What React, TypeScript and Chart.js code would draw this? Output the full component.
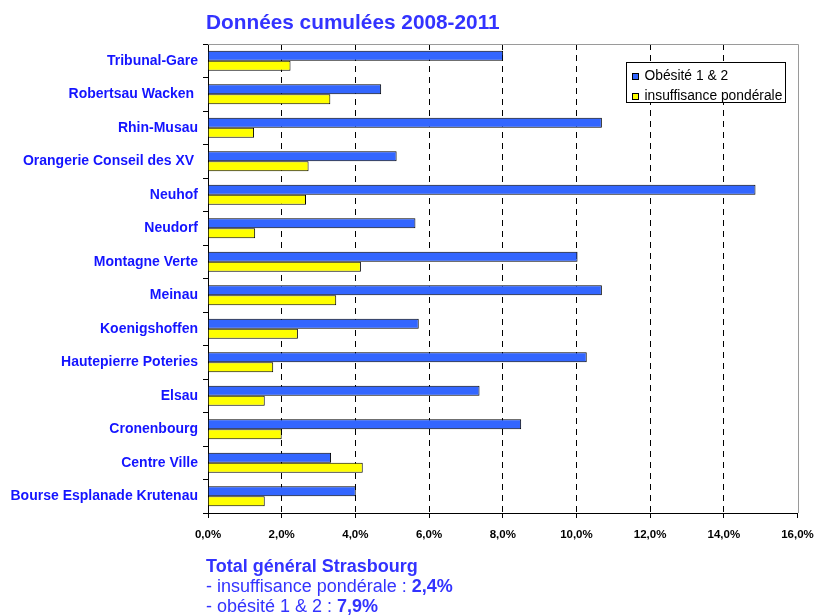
import React, { useEffect, useRef } from 'react';
import { Chart, registerables } from 'chart.js';

Chart.register(...registerables);

const categories = [
  'Tribunal-Gare',
  'Robertsau Wacken ',
  'Rhin-Musau',
  'Orangerie Conseil des XV ',
  'Neuhof',
  'Neudorf',
  'Montagne Verte',
  'Meinau',
  'Koenigshoffen',
  'Hautepierre Poteries',
  'Elsau',
  'Cronenbourg',
  'Centre Ville',
  'Bourse Esplanade Krutenau',
];
const obesite = [8.01, 4.7, 10.69, 5.12, 14.86, 5.63, 10.03, 10.69, 5.72, 10.28, 7.37, 8.5, 3.34, 4.01];
const insuffisance = [2.24, 3.32, 1.25, 2.73, 2.66, 1.28, 4.15, 3.48, 2.44, 1.77, 1.54, 2.0, 4.2, 1.54];
const seriesNames = ['Obésité 1 & 2', 'insuffisance pondérale'];
const seriesColors = ['#3366FF', '#FFFF00'];
const xMin = 0;
const xMax = 16;
const xStep = 2;
const titleText = 'Données cumulées 2008-2011';
const footerTitle = 'Total général Strasbourg';
const footerLines = [
  { label: '- insuffisance pondérale : ', value: '2,4%' },
  { label: '- obésité 1 & 2 : ', value: '7,9%' },
];

const FONT = 'Arial, "Liberation Sans", Helvetica, sans-serif';

const plotFramePlugin = {
  id: 'plotFrame',
  beforeDatasetsDraw(chart: any) {
    const { ctx, chartArea } = chart;
    ctx.save();
    ctx.strokeStyle = '#9a9a9a';
    ctx.lineWidth = 1;
    ctx.beginPath();
    ctx.moveTo(chartArea.left, Math.round(chartArea.top) + 0.5);
    ctx.lineTo(Math.round(chartArea.right) + 0.5, Math.round(chartArea.top) + 0.5);
    ctx.lineTo(Math.round(chartArea.right) + 0.5, chartArea.bottom);
    ctx.stroke();
    ctx.restore();
  },
};

const legendPlugin = {
  id: 'boxLegend',
  afterDraw(chart: any) {
    const { ctx, chartArea } = chart;
    ctx.save();
    ctx.font = `13.8px ${FONT}`;
    const names = chart.data.datasets.map((d: any) => d.label);
    const maxW = Math.max(...names.map((n: string) => ctx.measureText(n).width));
    const sq = 6;
    const padL = 6;
    const gap = 6;
    const padR = 3;
    const rowH = 20.5;
    const w = Math.round(padL + sq + gap + maxW + padR);
    const h = 40;
    const x = Math.round(chartArea.right - 12.5 - w) + 0.5;
    const y = Math.round(chartArea.top + 18) + 0.5;
    ctx.fillStyle = '#ffffff';
    ctx.fillRect(x, y, w, h);
    ctx.strokeStyle = '#000000';
    ctx.lineWidth = 1;
    ctx.strokeRect(x, y, w, h);
    names.forEach((n: string, i: number) => {
      const cy = y + 13 + rowH * i;
      const ds = chart.data.datasets[i];
      const sy = Math.round(cy - sq / 2) + 0.5;
      ctx.fillStyle = ds.backgroundColor;
      ctx.fillRect(x + padL, sy, sq, sq);
      ctx.strokeStyle = '#000';
      ctx.strokeRect(x + padL, sy, sq, sq);
      ctx.fillStyle = '#000';
      ctx.textBaseline = 'middle';
      ctx.textAlign = 'left';
      ctx.fillText(n, x + padL + sq + gap, cy + 0.5);
    });
    ctx.restore();
  },
};

export default function App() {
  const canvasRef = useRef<HTMLCanvasElement | null>(null);

  useEffect(() => {
    if (!canvasRef.current) return;
    const chart = new Chart(canvasRef.current, {
      type: 'bar',
      data: {
        labels: categories,
        datasets: [
          {
            label: seriesNames[0],
            data: obesite,
            backgroundColor: seriesColors[0],
            borderColor: '#000000',
            borderWidth: 1,
            categoryPercentage: 0.6,
            barPercentage: 1,
          },
          {
            label: seriesNames[1],
            data: insuffisance,
            backgroundColor: seriesColors[1],
            borderColor: '#000000',
            borderWidth: 1,
            categoryPercentage: 0.6,
            barPercentage: 1,
          },
        ],
      },
      options: {
        indexAxis: 'y',
        animation: false,
        responsive: false,
        maintainAspectRatio: false,
        devicePixelRatio: 1,
        layout: { padding: { top: 44, right: 20.5, bottom: 73, left: 0 } },
        plugins: {
          legend: { display: false },
          title: { display: false },
          tooltip: { enabled: false },
        },
        scales: {
          x: {
            type: 'linear',
            min: xMin,
            max: xMax,
            ticks: {
              stepSize: xStep,
              color: '#000000',
              padding: 10,
              font: { family: FONT, size: 11.5, weight: 'bold' },
              callback: (v: any) => Number(v).toFixed(1).replace('.', ',') + '%',
              maxRotation: 0,
            },
            grid: {
              color: (c: any) =>
                c.tick && (c.tick.value === xMin || c.tick.value === xMax) ? 'rgba(0,0,0,0)' : '#000000',
              tickColor: '#000000',
              tickLength: 5,
              lineWidth: 1,
            },
            border: { display: true, color: '#000000', width: 1, dash: [6, 5] },
            afterFit: (s: any) => {
              s.height = 30;
              s.paddingLeft = 0;
              s.paddingRight = 0;
            },
          },
          y: {
            type: 'category',
            offset: true,
            ticks: {
              color: '#1414ff',
              padding: 5,
              font: { family: FONT, size: 14, weight: 'bold' },
              autoSkip: false,
            },
            grid: {
              display: true,
              drawOnChartArea: false,
              drawTicks: true,
              offset: true,
              tickLength: 5,
              tickColor: '#000000',
              color: '#000000',
            },
            border: { display: true, color: '#000000', width: 1 },
            afterFit: (s: any) => {
              s.width = 208;
              s.paddingTop = 0;
              s.paddingBottom = 0;
            },
          },
        },
      } as any,
      plugins: [plotFramePlugin, legendPlugin],
    });
    return () => chart.destroy();
  }, []);

  return (
    <div style={{ position: 'absolute', left: 0, top: 0, width: 818, height: 616, background: '#fff', fontFamily: FONT }}>
      <canvas ref={canvasRef} width={818} height={616} style={{ position: 'absolute', left: 0, top: 0 }} />
      <div
        style={{
          position: 'absolute',
          left: 206,
          top: 9.5,
          fontSize: 20.8,
          fontWeight: 'bold',
          color: '#3333ff',
          whiteSpace: 'nowrap',
          lineHeight: '24px',
        }}
      >
        {titleText}
      </div>
      <div
        style={{
          position: 'absolute',
          left: 206,
          top: 556,
          fontSize: 18,
          color: '#3333ff',
          whiteSpace: 'nowrap',
          lineHeight: '20px',
        }}
      >
        <div style={{ fontWeight: 'bold' }}>{footerTitle}</div>
        {footerLines.map((l) => (
          <div key={l.label}>
            {l.label}
            <b>{l.value}</b>
          </div>
        ))}
      </div>
    </div>
  );
}
